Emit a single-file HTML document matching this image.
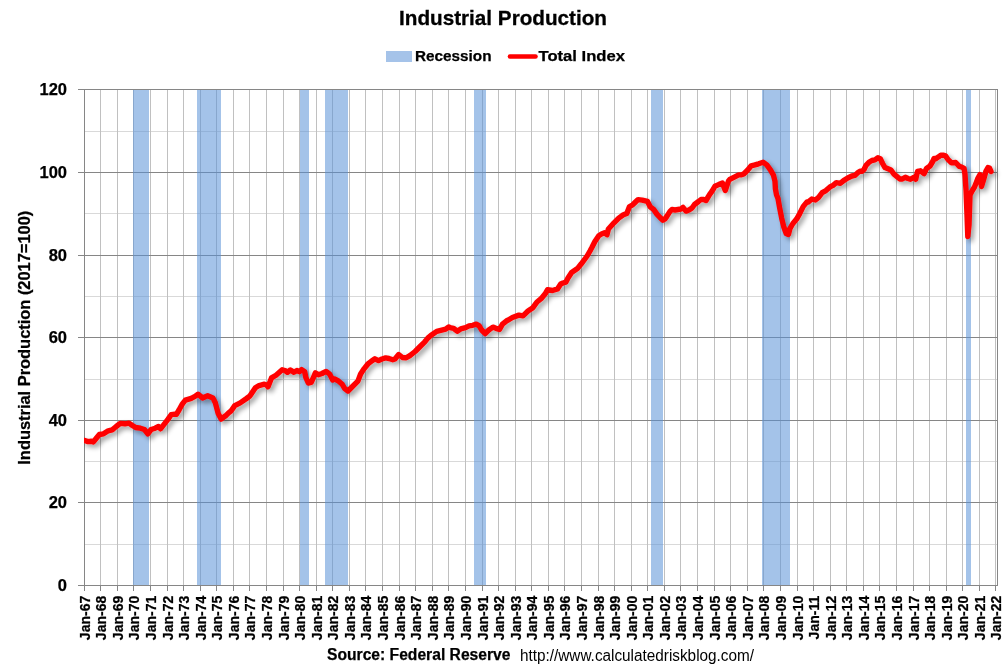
<!DOCTYPE html><html><head><meta charset="utf-8"><style>html,body{margin:0;padding:0;background:#fff;}svg{display:block;will-change:transform;}text{font-family:"Liberation Sans", sans-serif;}</style></head><body>
<svg width="1008" height="671" viewBox="0 0 1008 671">
<defs><clipPath id="pc"><rect x="84" y="0" width="1000" height="671"/></clipPath><filter id="sh" x="-5%" y="-5%" width="110%" height="120%"><feGaussianBlur in="SourceAlpha" stdDeviation="2.5"/><feOffset dx="2.5" dy="3" result="b"/><feComponentTransfer><feFuncA type="linear" slope="0.38"/></feComponentTransfer><feMerge><feMergeNode/><feMergeNode in="SourceGraphic"/></feMerge></filter></defs>
<rect width="1008" height="671" fill="#fff"/>
<rect x="85" y="131" width="912" height="1" fill="#d9d9d9"/>
<rect x="85" y="213" width="912" height="1" fill="#d9d9d9"/>
<rect x="85" y="296" width="912" height="1" fill="#d9d9d9"/>
<rect x="85" y="379" width="912" height="1" fill="#d9d9d9"/>
<rect x="85" y="461" width="912" height="1" fill="#d9d9d9"/>
<rect x="85" y="544" width="912" height="1" fill="#d9d9d9"/>
<rect x="100" y="90" width="1" height="495" fill="#c0c0c0"/>
<rect x="117" y="90" width="1" height="495" fill="#c0c0c0"/>
<rect x="133" y="90" width="1" height="495" fill="#c0c0c0"/>
<rect x="150" y="90" width="1" height="495" fill="#c0c0c0"/>
<rect x="167" y="90" width="1" height="495" fill="#c0c0c0"/>
<rect x="183" y="90" width="1" height="495" fill="#c0c0c0"/>
<rect x="200" y="90" width="1" height="495" fill="#c0c0c0"/>
<rect x="216" y="90" width="1" height="495" fill="#c0c0c0"/>
<rect x="233" y="90" width="1" height="495" fill="#c0c0c0"/>
<rect x="249" y="90" width="1" height="495" fill="#c0c0c0"/>
<rect x="266" y="90" width="1" height="495" fill="#c0c0c0"/>
<rect x="283" y="90" width="1" height="495" fill="#c0c0c0"/>
<rect x="299" y="90" width="1" height="495" fill="#c0c0c0"/>
<rect x="316" y="90" width="1" height="495" fill="#c0c0c0"/>
<rect x="332" y="90" width="1" height="495" fill="#c0c0c0"/>
<rect x="349" y="90" width="1" height="495" fill="#c0c0c0"/>
<rect x="365" y="90" width="1" height="495" fill="#c0c0c0"/>
<rect x="382" y="90" width="1" height="495" fill="#c0c0c0"/>
<rect x="399" y="90" width="1" height="495" fill="#c0c0c0"/>
<rect x="415" y="90" width="1" height="495" fill="#c0c0c0"/>
<rect x="432" y="90" width="1" height="495" fill="#c0c0c0"/>
<rect x="448" y="90" width="1" height="495" fill="#c0c0c0"/>
<rect x="465" y="90" width="1" height="495" fill="#c0c0c0"/>
<rect x="482" y="90" width="1" height="495" fill="#c0c0c0"/>
<rect x="498" y="90" width="1" height="495" fill="#c0c0c0"/>
<rect x="515" y="90" width="1" height="495" fill="#c0c0c0"/>
<rect x="531" y="90" width="1" height="495" fill="#c0c0c0"/>
<rect x="548" y="90" width="1" height="495" fill="#c0c0c0"/>
<rect x="564" y="90" width="1" height="495" fill="#c0c0c0"/>
<rect x="581" y="90" width="1" height="495" fill="#c0c0c0"/>
<rect x="598" y="90" width="1" height="495" fill="#c0c0c0"/>
<rect x="614" y="90" width="1" height="495" fill="#c0c0c0"/>
<rect x="631" y="90" width="1" height="495" fill="#c0c0c0"/>
<rect x="647" y="90" width="1" height="495" fill="#c0c0c0"/>
<rect x="664" y="90" width="1" height="495" fill="#c0c0c0"/>
<rect x="680" y="90" width="1" height="495" fill="#c0c0c0"/>
<rect x="697" y="90" width="1" height="495" fill="#c0c0c0"/>
<rect x="714" y="90" width="1" height="495" fill="#c0c0c0"/>
<rect x="730" y="90" width="1" height="495" fill="#c0c0c0"/>
<rect x="747" y="90" width="1" height="495" fill="#c0c0c0"/>
<rect x="763" y="90" width="1" height="495" fill="#c0c0c0"/>
<rect x="780" y="90" width="1" height="495" fill="#c0c0c0"/>
<rect x="797" y="90" width="1" height="495" fill="#c0c0c0"/>
<rect x="813" y="90" width="1" height="495" fill="#c0c0c0"/>
<rect x="830" y="90" width="1" height="495" fill="#c0c0c0"/>
<rect x="846" y="90" width="1" height="495" fill="#c0c0c0"/>
<rect x="863" y="90" width="1" height="495" fill="#c0c0c0"/>
<rect x="879" y="90" width="1" height="495" fill="#c0c0c0"/>
<rect x="896" y="90" width="1" height="495" fill="#c0c0c0"/>
<rect x="913" y="90" width="1" height="495" fill="#c0c0c0"/>
<rect x="929" y="90" width="1" height="495" fill="#c0c0c0"/>
<rect x="946" y="90" width="1" height="495" fill="#c0c0c0"/>
<rect x="962" y="90" width="1" height="495" fill="#c0c0c0"/>
<rect x="979" y="90" width="1" height="495" fill="#c0c0c0"/>
<rect x="995" y="90" width="1" height="495" fill="#c0c0c0"/>
<rect x="78" y="89" width="919" height="1" fill="#868686"/>
<rect x="78" y="172" width="919" height="1" fill="#868686"/>
<rect x="78" y="255" width="919" height="1" fill="#868686"/>
<rect x="78" y="337" width="919" height="1" fill="#868686"/>
<rect x="78" y="420" width="919" height="1" fill="#868686"/>
<rect x="78" y="502" width="919" height="1" fill="#868686"/>
<rect x="133" y="90" width="16" height="495" fill="#5a91d7" fill-opacity="0.55"/>
<rect x="197" y="90" width="24" height="495" fill="#5a91d7" fill-opacity="0.55"/>
<rect x="300" y="90" width="9" height="495" fill="#5a91d7" fill-opacity="0.55"/>
<rect x="325" y="90" width="23" height="495" fill="#5a91d7" fill-opacity="0.55"/>
<rect x="474" y="90" width="12" height="495" fill="#5a91d7" fill-opacity="0.55"/>
<rect x="651" y="90" width="12" height="495" fill="#5a91d7" fill-opacity="0.55"/>
<rect x="762" y="90" width="28" height="495" fill="#5a91d7" fill-opacity="0.55"/>
<rect x="966" y="90" width="5" height="495" fill="#5a91d7" fill-opacity="0.55"/>
<rect x="84" y="89" width="1" height="497" fill="#868686"/>
<rect x="997" y="89" width="1" height="497" fill="#868686"/>
<rect x="78" y="585" width="920" height="1" fill="#868686"/>
<rect x="84" y="585" width="1" height="6" fill="#868686"/>
<rect x="100" y="585" width="1" height="6" fill="#868686"/>
<rect x="117" y="585" width="1" height="6" fill="#868686"/>
<rect x="133" y="585" width="1" height="6" fill="#868686"/>
<rect x="150" y="585" width="1" height="6" fill="#868686"/>
<rect x="167" y="585" width="1" height="6" fill="#868686"/>
<rect x="183" y="585" width="1" height="6" fill="#868686"/>
<rect x="200" y="585" width="1" height="6" fill="#868686"/>
<rect x="216" y="585" width="1" height="6" fill="#868686"/>
<rect x="233" y="585" width="1" height="6" fill="#868686"/>
<rect x="249" y="585" width="1" height="6" fill="#868686"/>
<rect x="266" y="585" width="1" height="6" fill="#868686"/>
<rect x="283" y="585" width="1" height="6" fill="#868686"/>
<rect x="299" y="585" width="1" height="6" fill="#868686"/>
<rect x="316" y="585" width="1" height="6" fill="#868686"/>
<rect x="332" y="585" width="1" height="6" fill="#868686"/>
<rect x="349" y="585" width="1" height="6" fill="#868686"/>
<rect x="365" y="585" width="1" height="6" fill="#868686"/>
<rect x="382" y="585" width="1" height="6" fill="#868686"/>
<rect x="399" y="585" width="1" height="6" fill="#868686"/>
<rect x="415" y="585" width="1" height="6" fill="#868686"/>
<rect x="432" y="585" width="1" height="6" fill="#868686"/>
<rect x="448" y="585" width="1" height="6" fill="#868686"/>
<rect x="465" y="585" width="1" height="6" fill="#868686"/>
<rect x="482" y="585" width="1" height="6" fill="#868686"/>
<rect x="498" y="585" width="1" height="6" fill="#868686"/>
<rect x="515" y="585" width="1" height="6" fill="#868686"/>
<rect x="531" y="585" width="1" height="6" fill="#868686"/>
<rect x="548" y="585" width="1" height="6" fill="#868686"/>
<rect x="564" y="585" width="1" height="6" fill="#868686"/>
<rect x="581" y="585" width="1" height="6" fill="#868686"/>
<rect x="598" y="585" width="1" height="6" fill="#868686"/>
<rect x="614" y="585" width="1" height="6" fill="#868686"/>
<rect x="631" y="585" width="1" height="6" fill="#868686"/>
<rect x="647" y="585" width="1" height="6" fill="#868686"/>
<rect x="664" y="585" width="1" height="6" fill="#868686"/>
<rect x="680" y="585" width="1" height="6" fill="#868686"/>
<rect x="697" y="585" width="1" height="6" fill="#868686"/>
<rect x="714" y="585" width="1" height="6" fill="#868686"/>
<rect x="730" y="585" width="1" height="6" fill="#868686"/>
<rect x="747" y="585" width="1" height="6" fill="#868686"/>
<rect x="763" y="585" width="1" height="6" fill="#868686"/>
<rect x="780" y="585" width="1" height="6" fill="#868686"/>
<rect x="797" y="585" width="1" height="6" fill="#868686"/>
<rect x="813" y="585" width="1" height="6" fill="#868686"/>
<rect x="830" y="585" width="1" height="6" fill="#868686"/>
<rect x="846" y="585" width="1" height="6" fill="#868686"/>
<rect x="863" y="585" width="1" height="6" fill="#868686"/>
<rect x="879" y="585" width="1" height="6" fill="#868686"/>
<rect x="896" y="585" width="1" height="6" fill="#868686"/>
<rect x="913" y="585" width="1" height="6" fill="#868686"/>
<rect x="929" y="585" width="1" height="6" fill="#868686"/>
<rect x="946" y="585" width="1" height="6" fill="#868686"/>
<rect x="962" y="585" width="1" height="6" fill="#868686"/>
<rect x="979" y="585" width="1" height="6" fill="#868686"/>
<rect x="995" y="585" width="1" height="6" fill="#868686"/>
<g clip-path="url(#pc)"><path d="M84,440.3 L88,441.6 L91.4,441.2 L93.4,441.9 L96.1,438.5 L99.4,434.5 L103.5,433.8 L108.2,430.8 L112.2,429.8 L116.2,426.5 L120.2,423.4 L125,423.8 L129,423.1 L132.4,425.5 L135.7,427.5 L140.4,428.2 L144.4,429.5 L147.8,433.8 L151.1,429.5 L155.2,428.2 L158.5,426.5 L160.5,428.8 L165.2,422.8 L167.9,419.4 L171.2,414.7 L175,414.1 L176.4,414.3 L179,410 L182.4,403.9 L185.4,400.1 L191.3,398.3 L195,396.4 L198,394.2 L202.5,397.9 L207.7,395.7 L212.9,397.9 L215.2,402.4 L218.2,413.6 L221.1,419.1 L225.6,415.8 L228.6,412.8 L231,411 L234.8,405.6 L240.2,402.9 L246.5,398.5 L250,395.8 L255.4,387.7 L259,385.5 L264.4,384.2 L266.5,385 L268,386.8 L271.5,377.9 L276,375.2 L282.2,369.8 L285,370.5 L287.4,372.3 L290.4,369.9 L293.9,372.3 L296.9,370.5 L299.3,371.7 L301.7,369.6 L304.7,371.7 L305.9,377.7 L308.3,383 L311.2,382.4 L313.6,377.1 L315.4,372.9 L318.4,374.7 L322,373.5 L326.1,371.4 L329.7,374.1 L332.7,380 L334.5,378.9 L338.7,381.2 L342.2,384.2 L344.5,388.3 L348,391 L352.5,386.5 L357.9,381.1 L360.6,374 L364.2,368.6 L367.7,364.2 L371,361.5 L374.9,358.8 L378.5,360.6 L382,359 L385.6,357.9 L389,358.5 L392.8,359.7 L395,359 L398.7,354.5 L402.5,357.5 L406.2,357.8 L409.9,355.6 L415.1,351.5 L419.6,347 L424.8,341.8 L427.8,338.1 L430.8,335.5 L436.7,331.4 L442.7,329.9 L445.7,329.2 L448.7,326.9 L450,327.7 L453.6,328.3 L457.2,331.2 L460.7,328.9 L465.5,327.7 L469.1,325.9 L472.7,325.3 L476.2,324.1 L479.2,325.9 L481.6,330 L485.2,333.6 L488.8,330 L492.9,327.1 L495.9,328.3 L499.5,329.4 L502.5,324.1 L506.6,320.8 L508.3,320 L512.4,317.5 L518.9,315.1 L523,315.9 L528,311 L532.9,307.7 L537,302 L541.1,298.7 L545.2,293.8 L547.6,289.7 L552.5,290.5 L557.5,288.9 L560.7,284 L563,283 L565.8,282.2 L568,278 L571.6,272.5 L577.4,268.6 L581.3,263.8 L587.1,256 L590,251 L592,247.3 L594.9,241.5 L598.8,235.7 L601.5,234 L604.6,232.8 L607,234.7 L608.4,229 L612,225 L614,222.8 L618.7,218.1 L623.4,214.8 L626.8,213.5 L629.4,206.8 L632.8,204.7 L635.5,202 L638.1,199.6 L642.2,200.1 L647.5,201.4 L650.2,206.8 L653.6,209.4 L656.9,214.1 L660,217.5 L662.9,220.2 L665,219 L667,216.1 L670,211.4 L672,209.5 L675,210 L678,209.5 L681,209 L683,207.4 L686,211.1 L689,210 L692,208 L694.5,204.5 L698.5,201.5 L701,199.5 L703.7,199.5 L706,200.5 L709.7,194.3 L711.9,191.3 L714.9,186.3 L718.6,184.6 L722.4,183.1 L725.3,190.5 L728.5,181 L729.8,179.4 L734.3,177.1 L738.7,174.9 L741.5,174.8 L743.7,174 L747.5,170.3 L751.2,165.8 L754.9,164.9 L758.6,163.8 L763.1,162.3 L766.8,164.9 L770.6,170.1 L773.5,175.3 L775,181.3 L775.4,188.7 L776.5,194.7 L778,198.5 L779.5,207.1 L781.7,218.3 L783.9,227.3 L786.2,233.5 L788.4,234.5 L789.9,228.7 L792.9,223.5 L796.6,219.1 L799.6,213.8 L803.3,206.4 L807,201.9 L808.1,202.1 L811.8,199 L815.4,200 L818.6,197.4 L822.2,192.7 L825.9,190.6 L830,186.9 L833.1,185.3 L836.3,182.7 L840.4,183.3 L843.6,180.6 L847.7,178 L851.9,176 L855,175.4 L857.6,172.8 L860,171.3 L862.1,171.2 L864,169.5 L866,165.3 L868.9,162.3 L871.9,160.5 L874.9,159.9 L877.9,157.8 L880.3,158.7 L882.6,163.5 L885,167.6 L888,168.8 L891,170 L894,174.2 L897,176.6 L899.9,179 L902.3,179 L905.3,177.2 L908,178.5 L910.4,179.3 L913.9,177.2 L915.7,179.3 L917.5,171.5 L920.5,170.8 L924.1,173.6 L926.5,168.5 L930,166 L933,161 L934,158.5 L936,158.7 L938.4,156.9 L940.8,155.3 L943,155.2 L945.5,155.9 L947.9,159.3 L951.5,162.9 L955.7,162.5 L959.3,166.3 L961.6,167 L964,168.3 L965,174.3 L966,190 L967,215 L967.8,236.5 L969,225 L970,195 L972,191 L974.5,187 L976.5,182 L978,178 L980,174.5 L981.5,186.5 L983.5,180 L986,171 L988,167.5 L989.5,168 L991,171.5" fill="none" stroke="#ff0000" stroke-width="5.4" stroke-linejoin="round" stroke-linecap="round" filter="url(#sh)"/></g>
<text x="399" y="24.6" font-size="21" font-weight="bold" stroke="#000" stroke-width="0.3" textLength="208" lengthAdjust="spacingAndGlyphs" fill="#000">Industrial Production</text>
<rect x="386" y="51" width="26" height="11" fill="#a5c3e9"/>
<text x="415" y="61.1" font-size="14.7" font-weight="bold" stroke="#000" stroke-width="0.25" textLength="76.5" lengthAdjust="spacingAndGlyphs">Recession</text>
<line x1="510" y1="56.5" x2="535.5" y2="56.5" stroke="#ff0000" stroke-width="4.6" stroke-linecap="round"/>
<text x="538.5" y="61.1" font-size="14.7" font-weight="bold" stroke="#000" stroke-width="0.25" textLength="86.5" lengthAdjust="spacingAndGlyphs">Total Index</text>
<text x="67" y="95.4" font-size="16.5" font-weight="bold" stroke="#000" stroke-width="0.25" text-anchor="end">120</text>
<text x="67" y="178.4" font-size="16.5" font-weight="bold" stroke="#000" stroke-width="0.25" text-anchor="end">100</text>
<text x="67" y="261.4" font-size="16.5" font-weight="bold" stroke="#000" stroke-width="0.25" text-anchor="end">80</text>
<text x="67" y="343.4" font-size="16.5" font-weight="bold" stroke="#000" stroke-width="0.25" text-anchor="end">60</text>
<text x="67" y="426.4" font-size="16.5" font-weight="bold" stroke="#000" stroke-width="0.25" text-anchor="end">40</text>
<text x="67" y="508.4" font-size="16.5" font-weight="bold" stroke="#000" stroke-width="0.25" text-anchor="end">20</text>
<text x="67" y="591.4" font-size="16.5" font-weight="bold" stroke="#000" stroke-width="0.25" text-anchor="end">0</text>
<text transform="translate(30,464.7) rotate(-90)" font-size="16.3" font-weight="bold" stroke="#000" stroke-width="0.25" textLength="254" lengthAdjust="spacingAndGlyphs">Industrial Production (2017=100)</text>
<text transform="translate(89.9,595.8) rotate(-90)" font-size="14" font-weight="bold" text-anchor="end" stroke="#000" stroke-width="0.25">Jan-67</text>
<text transform="translate(105.9,595.8) rotate(-90)" font-size="14" font-weight="bold" text-anchor="end" stroke="#000" stroke-width="0.25">Jan-68</text>
<text transform="translate(122.9,595.8) rotate(-90)" font-size="14" font-weight="bold" text-anchor="end" stroke="#000" stroke-width="0.25">Jan-69</text>
<text transform="translate(138.9,595.8) rotate(-90)" font-size="14" font-weight="bold" text-anchor="end" stroke="#000" stroke-width="0.25">Jan-70</text>
<text transform="translate(155.9,595.8) rotate(-90)" font-size="14" font-weight="bold" text-anchor="end" stroke="#000" stroke-width="0.25">Jan-71</text>
<text transform="translate(172.9,595.8) rotate(-90)" font-size="14" font-weight="bold" text-anchor="end" stroke="#000" stroke-width="0.25">Jan-72</text>
<text transform="translate(188.9,595.8) rotate(-90)" font-size="14" font-weight="bold" text-anchor="end" stroke="#000" stroke-width="0.25">Jan-73</text>
<text transform="translate(205.9,595.8) rotate(-90)" font-size="14" font-weight="bold" text-anchor="end" stroke="#000" stroke-width="0.25">Jan-74</text>
<text transform="translate(221.9,595.8) rotate(-90)" font-size="14" font-weight="bold" text-anchor="end" stroke="#000" stroke-width="0.25">Jan-75</text>
<text transform="translate(238.9,595.8) rotate(-90)" font-size="14" font-weight="bold" text-anchor="end" stroke="#000" stroke-width="0.25">Jan-76</text>
<text transform="translate(254.9,595.8) rotate(-90)" font-size="14" font-weight="bold" text-anchor="end" stroke="#000" stroke-width="0.25">Jan-77</text>
<text transform="translate(271.9,595.8) rotate(-90)" font-size="14" font-weight="bold" text-anchor="end" stroke="#000" stroke-width="0.25">Jan-78</text>
<text transform="translate(288.9,595.8) rotate(-90)" font-size="14" font-weight="bold" text-anchor="end" stroke="#000" stroke-width="0.25">Jan-79</text>
<text transform="translate(304.9,595.8) rotate(-90)" font-size="14" font-weight="bold" text-anchor="end" stroke="#000" stroke-width="0.25">Jan-80</text>
<text transform="translate(321.9,595.8) rotate(-90)" font-size="14" font-weight="bold" text-anchor="end" stroke="#000" stroke-width="0.25">Jan-81</text>
<text transform="translate(337.9,595.8) rotate(-90)" font-size="14" font-weight="bold" text-anchor="end" stroke="#000" stroke-width="0.25">Jan-82</text>
<text transform="translate(354.9,595.8) rotate(-90)" font-size="14" font-weight="bold" text-anchor="end" stroke="#000" stroke-width="0.25">Jan-83</text>
<text transform="translate(370.9,595.8) rotate(-90)" font-size="14" font-weight="bold" text-anchor="end" stroke="#000" stroke-width="0.25">Jan-84</text>
<text transform="translate(387.9,595.8) rotate(-90)" font-size="14" font-weight="bold" text-anchor="end" stroke="#000" stroke-width="0.25">Jan-85</text>
<text transform="translate(404.9,595.8) rotate(-90)" font-size="14" font-weight="bold" text-anchor="end" stroke="#000" stroke-width="0.25">Jan-86</text>
<text transform="translate(420.9,595.8) rotate(-90)" font-size="14" font-weight="bold" text-anchor="end" stroke="#000" stroke-width="0.25">Jan-87</text>
<text transform="translate(437.9,595.8) rotate(-90)" font-size="14" font-weight="bold" text-anchor="end" stroke="#000" stroke-width="0.25">Jan-88</text>
<text transform="translate(453.9,595.8) rotate(-90)" font-size="14" font-weight="bold" text-anchor="end" stroke="#000" stroke-width="0.25">Jan-89</text>
<text transform="translate(470.9,595.8) rotate(-90)" font-size="14" font-weight="bold" text-anchor="end" stroke="#000" stroke-width="0.25">Jan-90</text>
<text transform="translate(487.9,595.8) rotate(-90)" font-size="14" font-weight="bold" text-anchor="end" stroke="#000" stroke-width="0.25">Jan-91</text>
<text transform="translate(503.9,595.8) rotate(-90)" font-size="14" font-weight="bold" text-anchor="end" stroke="#000" stroke-width="0.25">Jan-92</text>
<text transform="translate(520.9,595.8) rotate(-90)" font-size="14" font-weight="bold" text-anchor="end" stroke="#000" stroke-width="0.25">Jan-93</text>
<text transform="translate(536.9,595.8) rotate(-90)" font-size="14" font-weight="bold" text-anchor="end" stroke="#000" stroke-width="0.25">Jan-94</text>
<text transform="translate(553.9,595.8) rotate(-90)" font-size="14" font-weight="bold" text-anchor="end" stroke="#000" stroke-width="0.25">Jan-95</text>
<text transform="translate(569.9,595.8) rotate(-90)" font-size="14" font-weight="bold" text-anchor="end" stroke="#000" stroke-width="0.25">Jan-96</text>
<text transform="translate(586.9,595.8) rotate(-90)" font-size="14" font-weight="bold" text-anchor="end" stroke="#000" stroke-width="0.25">Jan-97</text>
<text transform="translate(603.9,595.8) rotate(-90)" font-size="14" font-weight="bold" text-anchor="end" stroke="#000" stroke-width="0.25">Jan-98</text>
<text transform="translate(619.9,595.8) rotate(-90)" font-size="14" font-weight="bold" text-anchor="end" stroke="#000" stroke-width="0.25">Jan-99</text>
<text transform="translate(636.9,595.8) rotate(-90)" font-size="14" font-weight="bold" text-anchor="end" stroke="#000" stroke-width="0.25">Jan-00</text>
<text transform="translate(652.9,595.8) rotate(-90)" font-size="14" font-weight="bold" text-anchor="end" stroke="#000" stroke-width="0.25">Jan-01</text>
<text transform="translate(669.9,595.8) rotate(-90)" font-size="14" font-weight="bold" text-anchor="end" stroke="#000" stroke-width="0.25">Jan-02</text>
<text transform="translate(685.9,595.8) rotate(-90)" font-size="14" font-weight="bold" text-anchor="end" stroke="#000" stroke-width="0.25">Jan-03</text>
<text transform="translate(702.9,595.8) rotate(-90)" font-size="14" font-weight="bold" text-anchor="end" stroke="#000" stroke-width="0.25">Jan-04</text>
<text transform="translate(719.9,595.8) rotate(-90)" font-size="14" font-weight="bold" text-anchor="end" stroke="#000" stroke-width="0.25">Jan-05</text>
<text transform="translate(735.9,595.8) rotate(-90)" font-size="14" font-weight="bold" text-anchor="end" stroke="#000" stroke-width="0.25">Jan-06</text>
<text transform="translate(752.9,595.8) rotate(-90)" font-size="14" font-weight="bold" text-anchor="end" stroke="#000" stroke-width="0.25">Jan-07</text>
<text transform="translate(768.9,595.8) rotate(-90)" font-size="14" font-weight="bold" text-anchor="end" stroke="#000" stroke-width="0.25">Jan-08</text>
<text transform="translate(785.9,595.8) rotate(-90)" font-size="14" font-weight="bold" text-anchor="end" stroke="#000" stroke-width="0.25">Jan-09</text>
<text transform="translate(802.9,595.8) rotate(-90)" font-size="14" font-weight="bold" text-anchor="end" stroke="#000" stroke-width="0.25">Jan-10</text>
<text transform="translate(818.9,595.8) rotate(-90)" font-size="14" font-weight="bold" text-anchor="end" stroke="#000" stroke-width="0.25">Jan-11</text>
<text transform="translate(835.9,595.8) rotate(-90)" font-size="14" font-weight="bold" text-anchor="end" stroke="#000" stroke-width="0.25">Jan-12</text>
<text transform="translate(851.9,595.8) rotate(-90)" font-size="14" font-weight="bold" text-anchor="end" stroke="#000" stroke-width="0.25">Jan-13</text>
<text transform="translate(868.9,595.8) rotate(-90)" font-size="14" font-weight="bold" text-anchor="end" stroke="#000" stroke-width="0.25">Jan-14</text>
<text transform="translate(884.9,595.8) rotate(-90)" font-size="14" font-weight="bold" text-anchor="end" stroke="#000" stroke-width="0.25">Jan-15</text>
<text transform="translate(901.9,595.8) rotate(-90)" font-size="14" font-weight="bold" text-anchor="end" stroke="#000" stroke-width="0.25">Jan-16</text>
<text transform="translate(918.9,595.8) rotate(-90)" font-size="14" font-weight="bold" text-anchor="end" stroke="#000" stroke-width="0.25">Jan-17</text>
<text transform="translate(934.9,595.8) rotate(-90)" font-size="14" font-weight="bold" text-anchor="end" stroke="#000" stroke-width="0.25">Jan-18</text>
<text transform="translate(951.9,595.8) rotate(-90)" font-size="14" font-weight="bold" text-anchor="end" stroke="#000" stroke-width="0.25">Jan-19</text>
<text transform="translate(967.9,595.8) rotate(-90)" font-size="14" font-weight="bold" text-anchor="end" stroke="#000" stroke-width="0.25">Jan-20</text>
<text transform="translate(984.9,595.8) rotate(-90)" font-size="14" font-weight="bold" text-anchor="end" stroke="#000" stroke-width="0.25">Jan-21</text>
<text transform="translate(1000.9,595.8) rotate(-90)" font-size="14" font-weight="bold" text-anchor="end" stroke="#000" stroke-width="0.25">Jan-22</text>
<text x="327" y="660.4" font-size="16" font-weight="bold" stroke="#000" stroke-width="0.25" textLength="183.5" lengthAdjust="spacingAndGlyphs">Source: Federal Reserve</text>
<text x="520" y="660.6" font-size="16" textLength="234" lengthAdjust="spacingAndGlyphs">http://www.calculatedriskblog.com/</text>
</svg></body></html>
